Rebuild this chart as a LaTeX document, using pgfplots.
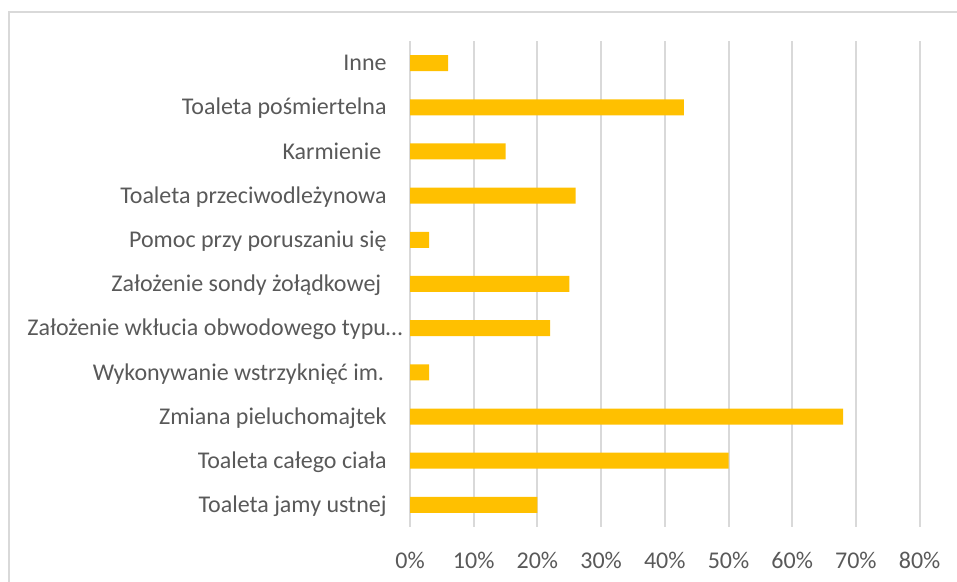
\documentclass[border=0pt]{standalone}
\usepackage{pgfplots}
\pgfplotsset{compat=1.18}
\usepackage{fontspec}
\setmainfont{Carlito}
\definecolor{txt}{HTML}{595959}
\definecolor{grd}{HTML}{D9D9D9}
\definecolor{bar}{HTML}{FFC000}
\begin{document}
\begin{tikzpicture}
\path[use as bounding box] (0,0) rectangle (478.5pt,291pt);
\draw[grd, line width=1pt] (4.5pt,0) -- (4.5pt,285pt) -- (478.5pt,285pt);
\begin{axis}[
  at={(205pt,27.5pt)}, anchor=south west,
  scale only axis, width=254.8pt, height=243pt,
  xbar, bar width=8pt,
  xmin=0, xmax=80, ymin=-0.5, ymax=10.5,
  axis line style={draw=none},
  major tick length=0pt,
  xtick={0,10,...,80},
  xticklabels={0\%,10\%,20\%,30\%,40\%,50\%,60\%,70\%,80\%},
  xmajorgrids, grid style={grd, line width=1pt},
  ytick={0,...,10},
  yticklabels={Toaleta jamy ustnej, Toaleta całego ciała, Zmiana pieluchomajtek,
    Wykonywanie wstrzyknięć im.\kern1.3pt, Założenie wkłucia obwodowego typu…\kern-8pt,
    Założenie sondy żołądkowej\kern2.7pt, Pomoc przy poruszaniu się,
    Toaleta przeciwodleżynowa, Karmienie\kern2.7pt, Toaleta pośmiertelna, Inne},
  every tick label/.append style={font=\fontsize{12}{14}\selectfont, text=txt},
  xticklabel style={anchor=center, inner sep=0pt, yshift=-16.5pt},
  yticklabel style={anchor=base east, inner sep=0pt, xshift=-11.5pt, yshift=-3.86pt},
]
\addplot[draw=none, fill=bar] coordinates {
  (20,0) (50,1) (68,2) (3,3) (22,4) (25,5) (3,6) (26,7) (15,8) (43,9) (6,10)
};
\end{axis}
\end{tikzpicture}
\end{document}
